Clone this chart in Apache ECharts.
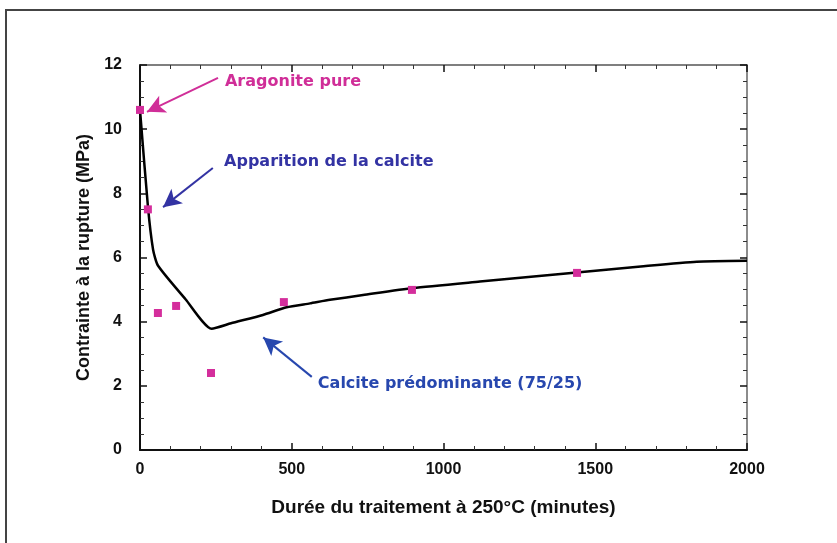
<!DOCTYPE html>
<html><head><meta charset="utf-8">
<script src="https://cdn.jsdelivr.net/npm/echarts@6/dist/echarts.min.js"></script>
<style>html,body{margin:0;padding:0;background:#fff}#c{width:837px;height:543px}</style>
</head><body><div id="c"></div>
<script>
// Measured points (minutes, MPa)
var pointsX = [0, 26, 59, 119, 234, 474, 896, 1440];
var pointsY = [10.6, 7.5, 4.27, 4.49, 2.4, 4.61, 4.99, 5.52];
// Fitted curve
var curveX = [0, 26, 43, 59, 150, 236, 300, 405, 483, 560, 626, 735, 900, 1120, 1439, 1650, 1834, 2000];
var curveY = [10.6, 7.6, 6.25, 5.75, 4.7, 3.78, 3.95, 4.21, 4.45, 4.57, 4.68, 4.83, 5.05, 5.25, 5.53, 5.72, 5.87, 5.9];
var xTicks = [0, 500, 1000, 1500, 2000];
var yTicks = [0, 2, 4, 6, 8, 10, 12];
var annotations = [
  {text: 'Aragonite pure', color: '#d02e98', at: [280, 11.47], from: [257, 11.6], to: [23, 10.54]},
  {text: 'Apparition de la calcite', color: '#3333a3', at: [277, 8.98], from: [240, 8.79], to: [76, 7.57]},
  {text: 'Calcite prédominante (75/25)', color: '#2747ae', at: [586, 2.06], from: [566, 2.28], to: [406, 3.51]}
];

var FONT = 'Liberation Sans';
var chart = echarts.init(document.getElementById('c'));
function pairs(xs, ys){ return xs.map(function(x,i){return [x, ys[i]];}); }
function tick(){ return {show:true, inside:true, length:7, lineStyle:{color:'#111', width:1.5}}; }
function minor(n){ return {show:true, splitNumber:n, length:4, lineStyle:{color:'#333', width:1}}; }

var option = {
  backgroundColor: '#fff',
  animation: false,
  grid: {left:140, right:90, top:65, bottom:93},
  xAxis: [{
    type:'value', min:xTicks[0], max:xTicks[xTicks.length-1], interval:500,
    axisLine:{show:true, onZero:false, lineStyle:{color:'#111', width:2}},
    axisTick: tick(), minorTick: minor(5),
    splitLine:{show:false},
    axisLabel:{color:'#111', fontFamily:FONT, fontSize:16, fontWeight:'bold', margin:12,
      formatter:function(v){return String(v);}},
    name:'Durée du traitement à 250°C (minutes)', nameLocation:'middle', nameGap:48,
    nameTextStyle:{color:'#111', fontFamily:FONT, fontSize:19, fontWeight:'bold'}
  },{
    type:'value', position:'top', min:0, max:2000, interval:500,
    axisLine:{show:true, onZero:false, lineStyle:{color:'#555', width:1.5}},
    axisTick: tick(), minorTick: minor(5), axisLabel:{show:false}, splitLine:{show:false}
  }],
  yAxis: [{
    type:'value', min:yTicks[0], max:yTicks[yTicks.length-1], interval:2,
    axisLine:{show:true, onZero:false, lineStyle:{color:'#111', width:2}},
    axisTick: tick(), minorTick: minor(4),
    splitLine:{show:false},
    axisLabel:{color:'#111', fontFamily:FONT, fontSize:16, fontWeight:'bold', margin:18},
    name:'Contrainte à la rupture (MPa)', nameLocation:'middle', nameGap:43,
    nameTextStyle:{color:'#111', fontFamily:FONT, fontSize:18, fontWeight:'bold'}
  },{
    type:'value', position:'right', min:0, max:12, interval:2,
    axisLine:{show:true, onZero:false, lineStyle:{color:'#666', width:1.5}},
    axisTick: tick(), minorTick: minor(4),
    axisLabel:{show:false}, splitLine:{show:false}
  }],
  graphic: [{
    type:'rect', shape:{x:6, y:10, width:900, height:600},
    style:{fill:'none', stroke:'#444', lineWidth:2}, z:-1
  }],
  series: [{
    type:'line', data: pairs(curveX, curveY), showSymbol:false, smooth:0.2,
    lineStyle:{color:'#000', width:2.5}, z:2,
    markLine: {
      silent:true, animation:false,
      symbol:['none','arrow'], symbolSize:[14, 18],
      label:{show:false},
      data: annotations.map(function(a){
        return [{coord:a.from, lineStyle:{color:a.color, width:2, type:'solid'}},
                {coord:a.to}];
      })
    }
  },{
    type:'scatter', data: pairs(pointsX, pointsY), symbol:'rect', symbolSize:8,
    itemStyle:{color:'#d42e9c', opacity:1}, z:3
  },{
    type:'scatter', data: annotations.map(function(a){return {value:a.at, label:{color:a.color}, text:a.text};}),
    symbolSize:0, silent:true, itemStyle:{opacity:1},
    label:{show:true, position:'right', distance:0, fontFamily:'DejaVu Sans', fontSize:16, fontWeight:'bold',
      formatter:function(p){return p.data.text;}}
  }]
};
chart.setOption(option);
</script></body></html>
